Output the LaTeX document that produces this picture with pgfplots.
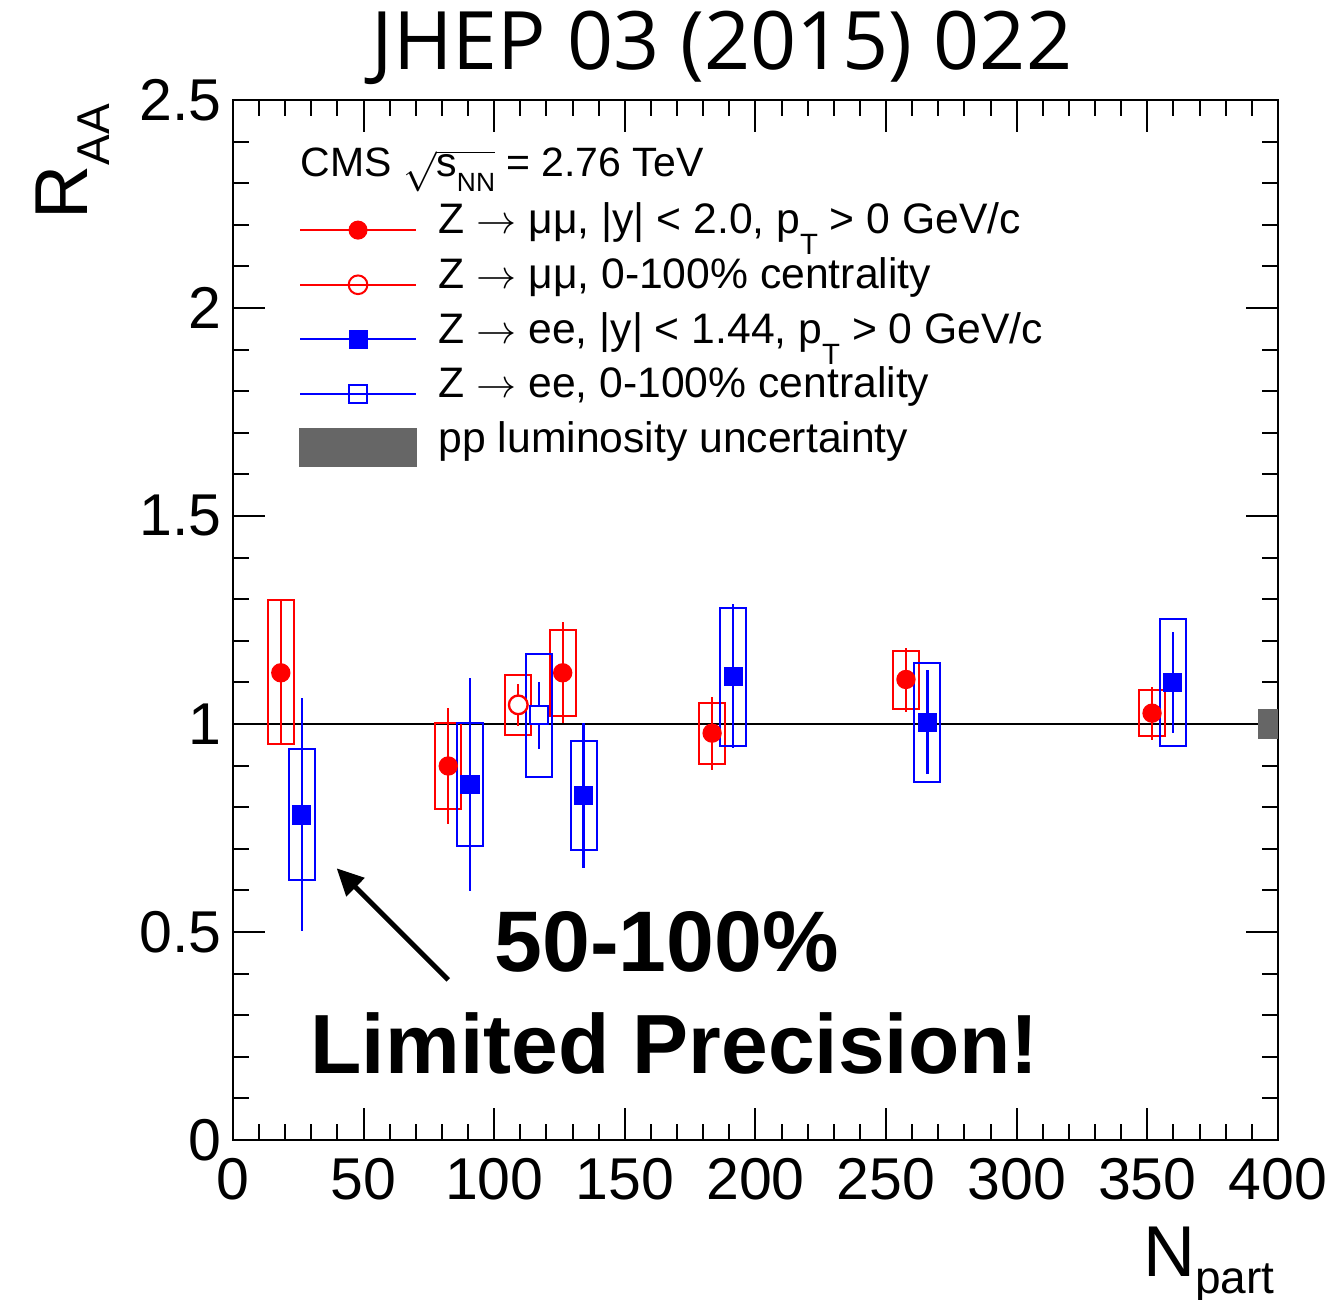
\documentclass[border=0pt]{standalone}
\usepackage{pgfplots}
\pgfplotsset{compat=1.18}
\usepackage{pgfplotstable}
\usepackage{fontspec}
\setmainfont{Liberation Sans}
\newfontfamily\titlefont{Open Sans}
\usetikzlibrary{arrows.meta}

\definecolor{lumigray}{gray}{0.4}

% Npart, R_AA, stat (-/+), syst (-/+)
\pgfplotstableread{
x y elo ehi slo shi
18.3 1.123 0.172 0.175 0.172 0.175
82.4 0.899 0.139 0.139 0.103 0.103
126.2 1.123 0.121 0.122 0.103 0.103
183.4 0.978 0.089 0.088 0.074 0.072
257.6 1.107 0.077 0.075 0.070 0.068
351.8 1.026 0.064 0.063 0.056 0.055
}\zmumu
\pgfplotstableread{
x y elo ehi slo shi
109.2 1.046 0.051 0.050 0.072 0.071
}\zmumuall
\pgfplotstableread{
x y elo ehi slo shi
26.3 0.781 0.279 0.282 0.156 0.158
90.7 0.855 0.256 0.256 0.148 0.147
134.2 0.828 0.175 0.174 0.131 0.130
191.5 1.114 0.172 0.174 0.166 0.166
265.8 1.004 0.124 0.126 0.143 0.143
359.7 1.099 0.120 0.122 0.153 0.154
}\zee
\pgfplotstableread{
x y elo ehi slo shi
117.1 1.022 0.083 0.080 0.149 0.146
}\zeeall

\pgfplotsset{
  syst box/.style={
    forget plot, only marks, mark=text, text mark={},
    scatter,
    visualization depends on={\thisrow{slo} \as \slo},
    visualization depends on={\thisrow{shi} \as \shi},
    scatter/@pre marker code/.code={%
      \draw[#1, line width=0.6pt] (axis direction cs:-5,-\slo) rectangle (axis direction cs:5,\shi);},
    scatter/@post marker code/.code={},
  },
  stat points/.style={
    forget plot, only marks, #1, line width=0.7pt,
    error bars/y dir=both, error bars/y explicit, error bars/error mark=none,
    error bars/error bar style={#1, line width=0.7pt},
  },
}

\newcommand{\subT}{\raisebox{-6.3pt}{\fontsize{8.8}{9}\selectfont T}}

\begin{document}
\begin{tikzpicture}
\useasboundingbox (-69.9pt,-48pt) rectangle (330pt,342pt);
\begin{axis}[
  at={(0pt,0pt)}, anchor=south west,
  scale only axis, width=313.5pt, height=312pt,
  xmin=0, xmax=400, ymin=0, ymax=2.5,
  xtick={0,50,...,400}, ytick={0,0.5,...,2.5},
  minor x tick num=4, minor y tick num=4,
  xtick pos=both, ytick pos=both, tick align=inside,
  major tick length=9.5pt, minor tick length=4.8pt,
  every tick/.style={black, line width=0.6pt},
  axis line style={line width=0.8pt},
  /pgf/number format/assume math mode=true,
  tick label style={font=\fontsize{17.7}{20}\selectfont, inner sep=0pt},
  yticklabel style={xshift=-3.3pt},
  xticklabel style={yshift=-5.4pt},
  legend style={at={(rel axis cs:0.0632,0.9007)}, anchor=north west,
    draw=none, fill=none, inner sep=0pt, outer sep=0pt,
    row sep=3.9pt, column sep=6.5pt,
    font=\fontsize{12.8}{14}\selectfont,
    nodes={inner sep=0pt, text height=9.2pt, text depth=3.3pt}},
  legend cell align=left,
  legend image code/.code={\draw[mark repeat=2, mark phase=2, #1]
    plot coordinates {(0pt,-1.8pt) (17.4pt,-1.8pt) (34.8pt,-1.8pt)};},
]
% unity reference and pp luminosity band
\addplot[black, line width=0.6pt, forget plot] coordinates {(0,1) (400,1)};
\addplot[fill=lumigray, draw=none, forget plot] coordinates {(392.5,0.9635) (400,0.9635) (400,1.0365) (392.5,1.0365)};

% systematic boxes
\addplot[syst box=red] table {\zmumu};
\addplot[syst box=red] table {\zmumuall};
\addplot[syst box=blue] table {\zee};
\addplot[syst box=blue] table {\zeeall};

% points with statistical uncertainties
\addplot[mark=*, mark size=2.55pt, stat points=red] table[y error plus=ehi, y error minus=elo] {\zmumu};
\addplot[mark=*, mark size=2.8pt, mark options={fill=white}, stat points=red] table[y error plus=ehi, y error minus=elo] {\zmumuall};
\addplot[mark=square*, mark size=2.55pt, stat points=blue] table[y error plus=ehi, y error minus=elo] {\zee};
\addplot[mark=square*, mark size=2.7pt, mark options={fill=white}, stat points=blue] table[y error plus=ehi, y error minus=elo] {\zeeall};

\addlegendimage{red, line width=0.6pt, mark=*, mark size=2.55pt}
\addlegendentry{Z $\rightarrow$ μμ, |y| < 2.0, p\subT\ > 0 GeV/c}
\addlegendimage{red, line width=0.6pt, mark=o, mark size=2.8pt}
\addlegendentry{Z $\rightarrow$ μμ, 0-100\% centrality}
\addlegendimage{blue, line width=0.6pt, mark=square*, mark size=2.55pt}
\addlegendentry{Z $\rightarrow$ ee, |y| < 1.44, p\subT\ > 0 GeV/c}
\addlegendimage{blue, line width=0.6pt, mark=square, mark size=2.7pt}
\addlegendentry{Z $\rightarrow$ ee, 0-100\% centrality}
\addlegendimage{legend image code/.code={\fill[lumigray] (0pt,-7.2pt) rectangle (34.8pt,4.2pt);}}
\addlegendentry{pp luminosity uncertainty}

\draw[-{Triangle[length=8pt,width=7.5pt]}, line width=1.5pt] (axis cs:82.4,0.385) -- (axis cs:39.7,0.653);
\end{axis}

\node[anchor=base, inner sep=0pt, font=\titlefont\fontsize{24.2}{27}\selectfont] at (146.7pt,321pt) {JHEP 03 (2015) 022};
\node[anchor=base west, inner sep=0pt, font=\fontsize{12.3}{13}\selectfont] at (20.1pt,288.9pt)
  {CMS $\sqrt{\mbox{s\raisebox{-4.4pt}{\fontsize{7.9}{8}\selectfont NN}}}$ = 2.76 TeV};
\node[anchor=base east, inner sep=0pt] at (312.6pt,-41.1pt)
  {\fontsize{21.6}{24}\selectfont N\raisebox{-5pt}{\fontsize{13.8}{16}\selectfont part}};
\node[rotate=90, anchor=base east, inner sep=0pt] at (-43.5pt,311pt)
  {\fontsize{22.5}{24}\selectfont R\raisebox{-6.6pt}{\fontsize{13.8}{15}\selectfont AA}};
\node[anchor=base west, inner sep=0pt, font=\bfseries\fontsize{25.8}{28}\selectfont] at (78.3pt,50.5pt) {50-100\%};
\node[anchor=base west, inner sep=0pt, font=\bfseries\fontsize{25.2}{28}\selectfont] at (23.1pt,19.8pt) {Limited Precision!};
\end{tikzpicture}
\end{document}
